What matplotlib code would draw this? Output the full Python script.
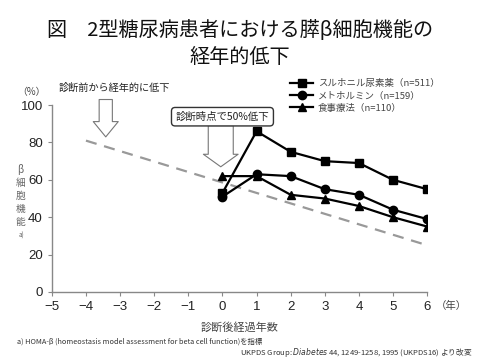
import matplotlib
import matplotlib.pyplot as plt

matplotlib.use("Agg")

plt.rcParams["font.family"] = ["Noto Sans CJK JP", "DejaVu Sans"]

years = [0, 1, 2, 3, 4, 5, 6]
sulfonylurea = [53, 86, 75, 70, 69, 60, 55]
metformin = [51, 63, 62, 55, 52, 44, 39]
diet = [62, 62, 52, 50, 46, 40, 35]
series_labels = [
    "スルホニル尿素薬（n=511）",
    "メトホルミン（n=159）",
    "食事療法（n=110）",
]
trend_x = [-4, 6]
trend_y = [81, 25]
x_ticks = list(range(-5, 7))
y_ticks = [0, 20, 40, 60, 80, 100]
ylabel_chars = ["β", "細", "胞", "機", "能"]

fig = plt.figure(figsize=(4.8, 3.6), dpi=100)
ax = fig.add_axes([0.108, 0.189, 0.782, 0.519])

# trend line (dashed)
ax.plot(trend_x, trend_y, color="#999999", lw=1.6, ls=(0, (5, 3.5)), zorder=1)

ax.plot(years, sulfonylurea, color="black", lw=1.6, marker="s", ms=5.5,
        label=series_labels[0], zorder=3)
ax.plot(years, metformin, color="black", lw=1.6, marker="o", ms=6,
        label=series_labels[1], zorder=3)
ax.plot(years, diet, color="black", lw=1.6, marker="^", ms=6,
        label=series_labels[2], zorder=3)

ax.set_xlim(-5, 6)
ax.set_ylim(0, 100)
ax.set_xticks(x_ticks)
ax.set_xticklabels([str(t).replace("-", "−") for t in x_ticks],
                   family=["Liberation Sans", "DejaVu Sans"])
ax.set_yticks(y_ticks)
ax.set_yticklabels([str(t) for t in y_ticks], family="Liberation Sans")
ax.tick_params(labelsize=9.5, colors="#222222", length=3, color="#888888")
for side in ["top", "right"]:
    ax.spines[side].set_visible(False)
for side in ["left", "bottom"]:
    ax.spines[side].set_color("#888888")
    ax.spines[side].set_linewidth(1.0)

# hollow arrows
ax.annotate("", xy=(-3.42, 83), xytext=(-3.42, 103), annotation_clip=False,
            arrowprops=dict(arrowstyle="simple,head_width=1.8,head_length=1.1,tail_width=0.95",
                            fc="white", ec="#777777", lw=0.8, shrinkA=0, shrinkB=0))
ax.annotate("", xy=(-0.05, 67), xytext=(-0.05, 89), annotation_clip=False,
            arrowprops=dict(arrowstyle="simple,head_width=2.5,head_length=0.9,tail_width=1.8",
                            fc="white", ec="#777777", lw=0.8, shrinkA=0, shrinkB=0))
ax.text(0.0, 93.8, "診断時点で50%低下", fontsize=7.5, ha="center", va="center",
        color="#222222",
        bbox=dict(boxstyle="round,pad=0.4,rounding_size=0.35", fc="white",
                  ec="#333333", lw=1.0))

leg = ax.legend(loc="upper left", bbox_to_anchor=(0.625, 1.16), frameon=False,
                fontsize=6.8, handlelength=2.4, labelspacing=0.35,
                handletextpad=0.5, borderaxespad=0)
for t in leg.get_texts():
    t.set_color("#444444")

fig.text(0.5, 0.915, "図　2型糖尿病患者における膵β細胞機能の", ha="center",
         va="center", fontsize=14.5, color="#111111")
fig.text(0.5, 0.84, "経年的低下", ha="center", va="center", fontsize=14.5,
         color="#111111")
fig.text(0.065, 0.745, "（%）", ha="center", va="center", fontsize=7,
         color="#444444")
fig.text(0.122, 0.757, "診断前から経年的に低下", ha="left", va="center",
         fontsize=7.3, color="#222222")
for i, ch in enumerate(ylabel_chars):
    fig.text(0.042, 0.528 - i * 0.036, ch, ha="center", va="center",
             fontsize=7, color="#666666")
fig.text(0.044, 0.345, "a)", ha="center", va="center", fontsize=4.5,
         color="#666666")
fig.text(0.94, 0.15, "（年）", ha="center", va="center", fontsize=7.5,
         color="#444444")
fig.text(0.5, 0.09, "診断後経過年数", ha="center", va="center", fontsize=8,
         color="#444444")
fig.text(0.035, 0.052, "a) HOMA-β (homeostasis model assessment for beta cell function)を指標",
         ha="left", va="center", fontsize=5.3, color="#333333")
fig.text(0.985, 0.022, "UKPDS Group: $\\it{Diabetes}$ 44, 1249-1258, 1995 (UKPDS16) より改変",
         ha="right", va="center", fontsize=5.5, color="#333333")

fig.savefig("out.png", dpi=100)
